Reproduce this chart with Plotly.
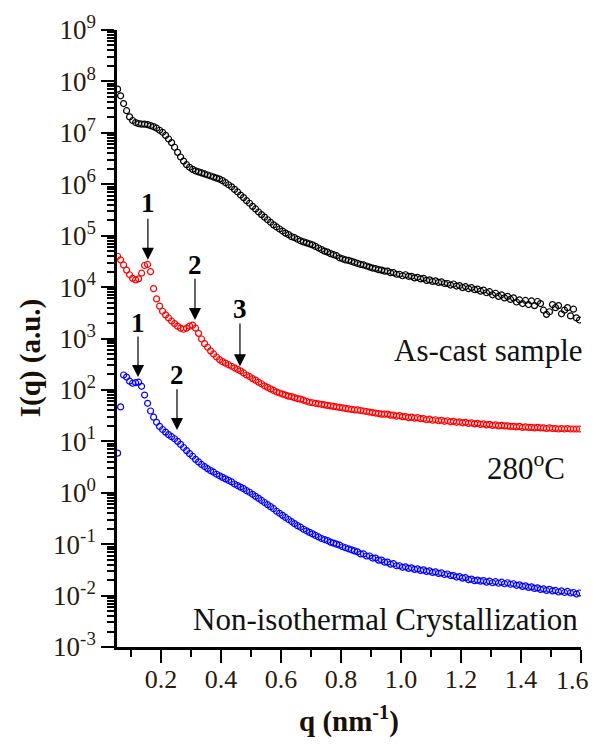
import plotly.graph_objects as go

# q values (nm^-1), shared by all three curves
q = [
    0.055, 0.065, 0.075, 0.085, 0.095, 0.105, 0.115, 0.125, 0.135, 0.145,
    0.155, 0.165, 0.175, 0.185, 0.195, 0.205, 0.215, 0.225, 0.235, 0.245,
    0.255, 0.265, 0.275, 0.285, 0.295, 0.305, 0.315, 0.325, 0.335, 0.345,
    0.355, 0.365, 0.375, 0.385, 0.395, 0.405, 0.415, 0.425, 0.435, 0.445,
    0.455, 0.465, 0.475, 0.485, 0.495, 0.505, 0.515, 0.525, 0.535, 0.545,
    0.555, 0.565, 0.575, 0.585, 0.595, 0.605, 0.615, 0.625, 0.635, 0.645,
    0.655, 0.665, 0.675, 0.685, 0.695, 0.705, 0.715, 0.725, 0.735, 0.745,
    0.755, 0.765, 0.775, 0.785, 0.795, 0.805, 0.815, 0.825, 0.835, 0.845,
    0.855, 0.865, 0.875, 0.885, 0.895, 0.905, 0.915, 0.925, 0.935, 0.945,
    0.955, 0.965, 0.975, 0.985, 0.995, 1.005, 1.015, 1.025, 1.035, 1.045,
    1.055, 1.065, 1.075, 1.085, 1.095, 1.105, 1.115, 1.125, 1.135, 1.145,
    1.155, 1.165, 1.175, 1.185, 1.195, 1.205, 1.215, 1.225, 1.235, 1.245,
    1.255, 1.265, 1.275, 1.285, 1.295, 1.305, 1.315, 1.325, 1.335, 1.345,
    1.355, 1.365, 1.375, 1.385, 1.395, 1.405, 1.415, 1.425, 1.435, 1.445,
    1.455, 1.465, 1.475, 1.485, 1.495, 1.505, 1.515, 1.525, 1.535, 1.545,
    1.555, 1.565, 1.575, 1.585, 1.595,
]

# log10 of I(q)
as_cast_log = [
    7.85, 7.72, 7.57, 7.43, 7.31, 7.24, 7.20, 7.18, 7.17, 7.17,
    7.16, 7.14, 7.12, 7.09, 7.05, 7.01, 6.95, 6.88, 6.81, 6.72,
    6.62, 6.53, 6.45, 6.38, 6.33, 6.29, 6.26, 6.24, 6.22, 6.20,
    6.18, 6.16, 6.14, 6.12, 6.10, 6.07, 6.03, 5.99, 5.95, 5.90,
    5.85, 5.79, 5.74, 5.68, 5.63, 5.57, 5.52, 5.46, 5.41, 5.36,
    5.31, 5.26, 5.21, 5.17, 5.13, 5.09, 5.05, 5.02, 4.98, 4.96,
    4.93, 4.90, 4.88, 4.86, 4.84, 4.82, 4.79, 4.76, 4.73, 4.70,
    4.68, 4.65, 4.63, 4.61, 4.57, 4.55, 4.53, 4.52, 4.50, 4.48,
    4.46, 4.44, 4.43, 4.41, 4.39, 4.37, 4.36, 4.34, 4.33, 4.31,
    4.31, 4.28, 4.28, 4.25, 4.25, 4.22, 4.24, 4.21, 4.21, 4.18,
    4.19, 4.16, 4.17, 4.13, 4.14, 4.11, 4.12, 4.09, 4.10, 4.07,
    4.07, 4.04, 4.06, 4.02, 4.03, 3.99, 4.01, 3.97, 3.99, 3.95,
    3.96, 3.92, 3.94, 3.89, 3.91, 3.85, 3.88, 3.82, 3.85, 3.79,
    3.82, 3.76, 3.79, 3.71, 3.75, 3.68, 3.74, 3.66, 3.73, 3.64,
    3.72, 3.68, 3.55, 3.47, 3.52, 3.66, 3.60, 3.64, 3.48, 3.55,
    3.60, 3.44, 3.57, 3.40, 3.36,
]

t280_log = [
    4.60, 4.53, 4.43, 4.33, 4.24, 4.17, 4.14, 4.16, 4.27, 4.42,
    4.44, 4.30, 3.97, 3.77, 3.63, 3.53, 3.46, 3.40, 3.34, 3.29,
    3.24, 3.20, 3.18, 3.20, 3.24, 3.26, 3.20, 3.10, 2.99, 2.90,
    2.83, 2.76, 2.70, 2.64, 2.59, 2.55, 2.52, 2.49, 2.46, 2.43,
    2.40, 2.37, 2.33, 2.29, 2.26, 2.22, 2.19, 2.15, 2.12, 2.08,
    2.05, 2.02, 1.99, 1.96, 1.94, 1.92, 1.90, 1.88, 1.87, 1.85,
    1.83, 1.82, 1.80, 1.78, 1.76, 1.75, 1.74, 1.73, 1.72, 1.71,
    1.70, 1.69, 1.68, 1.67, 1.66, 1.65, 1.64, 1.63, 1.62, 1.61,
    1.61, 1.60, 1.59, 1.58, 1.57, 1.56, 1.55, 1.54, 1.53, 1.53,
    1.53, 1.51, 1.51, 1.49, 1.50, 1.48, 1.48, 1.46, 1.47, 1.45,
    1.46, 1.44, 1.44, 1.42, 1.43, 1.41, 1.42, 1.40, 1.41, 1.39,
    1.40, 1.38, 1.39, 1.37, 1.38, 1.36, 1.37, 1.35, 1.36, 1.34,
    1.35, 1.33, 1.34, 1.32, 1.33, 1.31, 1.32, 1.30, 1.31, 1.30,
    1.30, 1.29, 1.29, 1.28, 1.29, 1.27, 1.28, 1.27, 1.27, 1.26,
    1.27, 1.26, 1.26, 1.25, 1.26, 1.25, 1.25, 1.24, 1.25, 1.24,
    1.25, 1.24, 1.24, 1.24, 1.24,
]

noniso_log = [
    0.77, 1.67, 2.29, 2.25, 2.17, 2.13, 2.14, 2.15, 2.07, 1.90,
    1.74, 1.59, 1.47, 1.37, 1.29, 1.23, 1.18, 1.13, 1.09, 1.05,
    1.00, 0.94, 0.88, 0.82, 0.76, 0.71, 0.65, 0.60, 0.55, 0.51,
    0.47, 0.43, 0.40, 0.36, 0.33, 0.30, 0.27, 0.24, 0.21, 0.17,
    0.14, 0.11, 0.08, 0.04, 0.01, -0.03, -0.07, -0.11, -0.15, -0.19,
    -0.23, -0.27, -0.31, -0.36, -0.40, -0.44, -0.48, -0.52, -0.56, -0.60,
    -0.64, -0.67, -0.71, -0.74, -0.77, -0.80, -0.83, -0.86, -0.89, -0.91,
    -0.93, -0.96, -0.98, -1.00, -1.02, -1.05, -1.07, -1.09, -1.11, -1.13,
    -1.15, -1.19, -1.19, -1.23, -1.23, -1.27, -1.27, -1.31, -1.31, -1.35,
    -1.35, -1.39, -1.38, -1.42, -1.42, -1.45, -1.44, -1.47, -1.46, -1.49,
    -1.48, -1.51, -1.50, -1.53, -1.52, -1.55, -1.54, -1.57, -1.56, -1.59,
    -1.58, -1.61, -1.61, -1.64, -1.63, -1.66, -1.65, -1.69, -1.68, -1.71,
    -1.70, -1.72, -1.71, -1.74, -1.72, -1.75, -1.73, -1.76, -1.74, -1.77,
    -1.75, -1.78, -1.77, -1.80, -1.79, -1.82, -1.81, -1.84, -1.83, -1.86,
    -1.85, -1.88, -1.87, -1.90, -1.88, -1.91, -1.90, -1.93, -1.91, -1.94,
    -1.92, -1.95, -1.94, -1.97, -1.95,
]

series_names = ["As-cast sample", "280oC", "Non-isothermal Crystallization"]
series_colors = ["#000000", "#ff0000", "#0000ff"]

# arrows: (label, q position, tip log10 I, tail log10 I, label log10 I)
arrow_labels = ["1", "2", "3", "1", "2"]
arrow_q = [0.156, 0.313, 0.463, 0.123, 0.253]
arrow_tip = [4.53, 3.36, 2.46, 2.25, 1.22]
arrow_tail = [5.36, 4.19, 3.32, 3.07, 2.04]
arrow_label_y = [5.63, 4.43, 3.57, 3.30, 2.29]

y_exponents = list(range(-3, 10))
x_ticks = [0.2, 0.4, 0.6, 0.8, 1.0, 1.2, 1.4, 1.6]

FONT = "Liberation Serif, Times New Roman, serif"
TICKCOL = "#2a1a0a"

fig = go.Figure()
for logs, name, col in zip([as_cast_log, t280_log, noniso_log], series_names, series_colors):
    fig.add_trace(go.Scatter(
        x=q, y=[10 ** v for v in logs], mode="markers", name=name,
        marker=dict(symbol="circle-open", size=6, color=col, line=dict(width=1.2, color=col)),
        showlegend=False,
    ))

annotations = []
for lab, xq, tip, tail, ly in zip(arrow_labels, arrow_q, arrow_tip, arrow_tail, arrow_label_y):
    annotations.append(dict(
        x=xq, y=tip, ax=xq, ay=tail, xref="x", yref="y", axref="x", ayref="y",
        text="", showarrow=True, arrowhead=2, arrowsize=2.0, arrowwidth=1.2,
        arrowcolor="#000000", standoff=0, startstandoff=0,
    ))
    annotations.append(dict(
        x=xq, y=ly, xref="x", yref="y", text="<b>%s</b>" % lab, showarrow=False,
        font=dict(family=FONT, size=27, color="#000000"),
        xanchor="center", yanchor="middle",
    ))

annotations += [
    dict(x=1.0086, y=0.481, xref="paper", yref="paper", text="As-cast sample",
         showarrow=False, xanchor="right", yanchor="middle",
         font=dict(family=FONT, size=31, color="#111111")),
    dict(x=0.970, y=0.292, xref="paper", yref="paper", text="280<sup>o</sup>C",
         showarrow=False, xanchor="right", yanchor="middle",
         font=dict(family=FONT, size=31, color="#111111")),
    dict(x=0.998, y=0.044, xref="paper", yref="paper", text="Non-isothermal Crystallization",
         showarrow=False, xanchor="right", yanchor="middle",
         font=dict(family=FONT, size=31, color="#111111")),
    dict(x=-0.1875, y=0.468, xref="paper", yref="paper", text="<b>I(q) (a.u.)</b>",
         showarrow=False, textangle=-90, xanchor="center", yanchor="middle",
         font=dict(family=FONT, size=29, color="#1a0f05")),
    dict(x=0.5, y=-0.117, xref="paper", yref="paper", text="<b>q (nm<sup>-1</sup>)</b>",
         showarrow=False, xanchor="center", yanchor="middle",
         font=dict(family=FONT, size=29, color="#1a0f05")),
    # last x tick label drawn as an annotation so it is not clipped at the right edge
    dict(x=1.0194, y=-0.0535, xref="paper", yref="paper", text="%.1f" % x_ticks[-1],
         showarrow=False, xanchor="right", yanchor="middle", borderpad=0,
         font=dict(family=FONT, size=26, color=TICKCOL)),
]

# the page body adds an 8 px offset, so the figure is made smaller and margins compensate
fig.update_layout(
    width=590, height=730,
    margin=dict(l=109, r=17, t=22, b=91, autoexpand=False),
    paper_bgcolor="white", plot_bgcolor="white",
    annotations=annotations,
    font=dict(family=FONT),
)

fig.update_xaxes(
    range=[0.053, 1.6], showgrid=False, zeroline=False, automargin=False,
    showline=True, linecolor="black", linewidth=2.5,
    ticks="outside", ticklen=13, tickwidth=2, tickcolor="black",
    tickvals=x_ticks, ticktext=["%.1f" % v for v in x_ticks[:-1]] + [""],
    tickfont=dict(family=FONT, size=26, color=TICKCOL),
    ticklabelstandoff=-6,
    minor=dict(ticks="outside", ticklen=7, tickwidth=2, tickcolor="black", dtick=0.1, tick0=0.1, showgrid=False),
)

fig.update_yaxes(
    type="log", range=[-3, 9], showgrid=False, zeroline=False, automargin=False,
    showline=True, linecolor="black", linewidth=2.5,
    ticks="outside", ticklen=13, tickwidth=2, tickcolor="black",
    tickvals=[10 ** e for e in y_exponents],
    ticktext=["10<sup>%d</sup>" % e for e in y_exponents],
    tickfont=dict(family=FONT, size=27, color=TICKCOL),
    minor=dict(ticks="outside", ticklen=7, tickwidth=1.5, tickcolor="black", dtick="D1", showgrid=False),
)

fig.write_html("out.html")
